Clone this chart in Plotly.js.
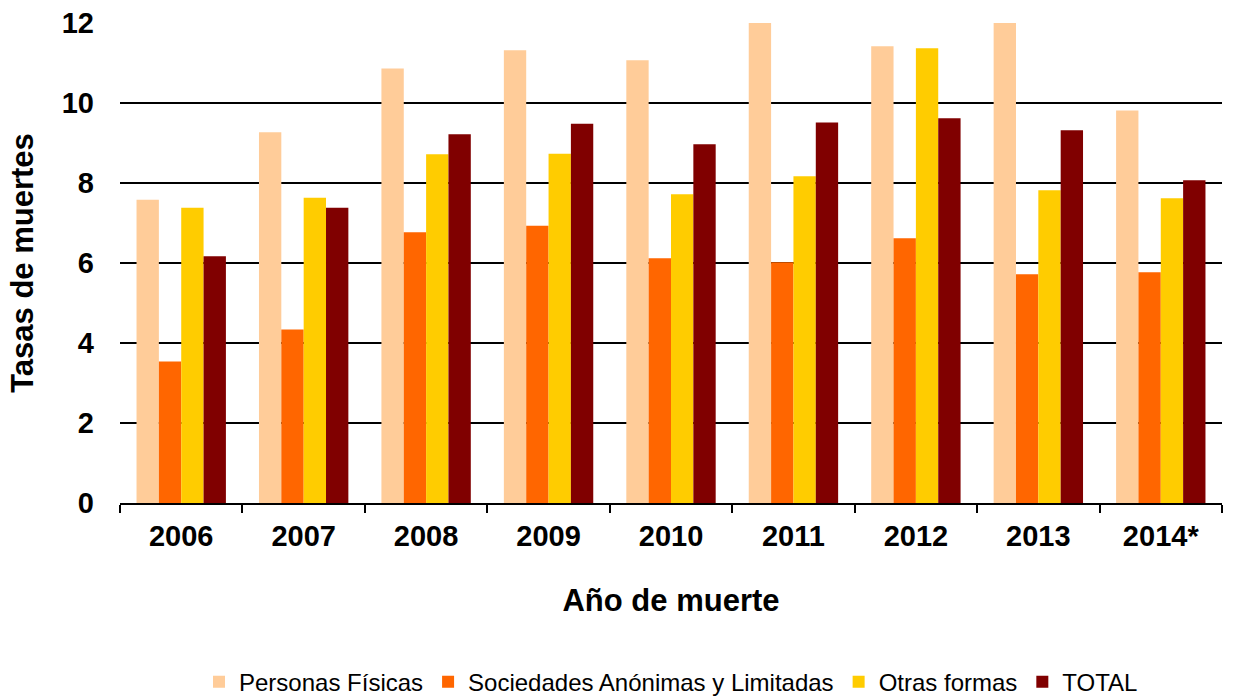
<!DOCTYPE html>
<html>
<head>
<meta charset="utf-8">
<script src="https://cdn.plot.ly/plotly-3.0.1.min.js"></script>
<style>html,body{margin:0;padding:0;background:#fff;}#chart{width:1233px;height:696px;}</style>
</head>
<body>
<div id="chart"></div>
<script>
const years = ["2006","2007","2008","2009","2010","2011","2012","2013","2014*"];
const personasFisicas = [7.58, 9.27, 10.86, 11.32, 11.07, 12.3, 11.42, 12.2, 9.81];
const sociedades = [3.54, 4.34, 6.77, 6.93, 6.12, 6.02, 6.62, 5.72, 5.77];
const otrasFormas = [7.38, 7.63, 8.72, 8.73, 7.72, 8.17, 11.37, 7.82, 7.62];
const total = [6.17, 7.38, 9.22, 9.48, 8.97, 9.51, 9.62, 9.32, 8.07];
const seriesNames = ["Personas Físicas", "Sociedades Anónimas y Limitadas", "Otras formas", "TOTAL"];
const seriesColors = ["#FFCC99", "#FF6600", "#FFCC00", "#800000"];
const seriesValues = [personasFisicas, sociedades, otrasFormas, total];
const yTicks = [0, 2, 4, 6, 8, 10, 12];

const FONT = "Liberation Sans, Arial, sans-serif";

const data = seriesValues.map((vals, i) => ({
  type: "bar",
  name: seriesNames[i],
  x: years,
  y: vals,
  marker: {color: seriesColors[i], line: {width: 0}},
  hoverinfo: "x+y+name"
}));

const layout = {
  width: 1233,
  height: 696,
  margin: {l: 120, r: 11, t: 23, b: 193, autoexpand: false},
  paper_bgcolor: "#ffffff",
  plot_bgcolor: "#ffffff",
  font: {family: FONT, color: "#000000"},
  barmode: "group",
  bargap: 0.27,
  bargroupgap: 0,
  showlegend: true,
  legend: {
    orientation: "h",
    x: 0.5, xanchor: "center",
    y: -0.373, yanchor: "middle",
    font: {family: FONT, size: 24, color: "#000000"},
    itemsizing: "constant",
    traceorder: "normal"
  },
  xaxis: {
    type: "category",
    tickson: "boundaries",
    ticks: "outside",
    ticklen: 8,
    tickwidth: 2,
    tickcolor: "#000000",
    showline: true,
    linecolor: "#000000",
    linewidth: 2,
    showgrid: false,
    tickfont: {family: FONT, size: 29, color: "#000000", weight: "bold"},
    ticklabelstandoff: 6,
    title: {text: "<b>Año de muerte</b>", font: {family: FONT, size: 31, color: "#000000"}, standoff: 39},
    automargin: false,
    fixedrange: true
  },
  yaxis: {
    range: [0, 12],
    tickvals: yTicks,
    ticktext: yTicks.map(String),
    showgrid: true,
    gridcolor: "#000000",
    gridwidth: 1.8,
    zeroline: false,
    showline: false,
    ticks: "",
    tickfont: {family: FONT, size: 29, color: "#000000", weight: "bold"},
    ticklabelstandoff: 25,
    title: {text: "<b>Tasas de muertes</b>", font: {family: FONT, size: 31, color: "#000000"}, standoff: 18},
    automargin: false,
    fixedrange: true
  }
};

Plotly.newPlot("chart", data, layout, {staticPlot: true, displayModeBar: false});
</script>
</body>
</html>
